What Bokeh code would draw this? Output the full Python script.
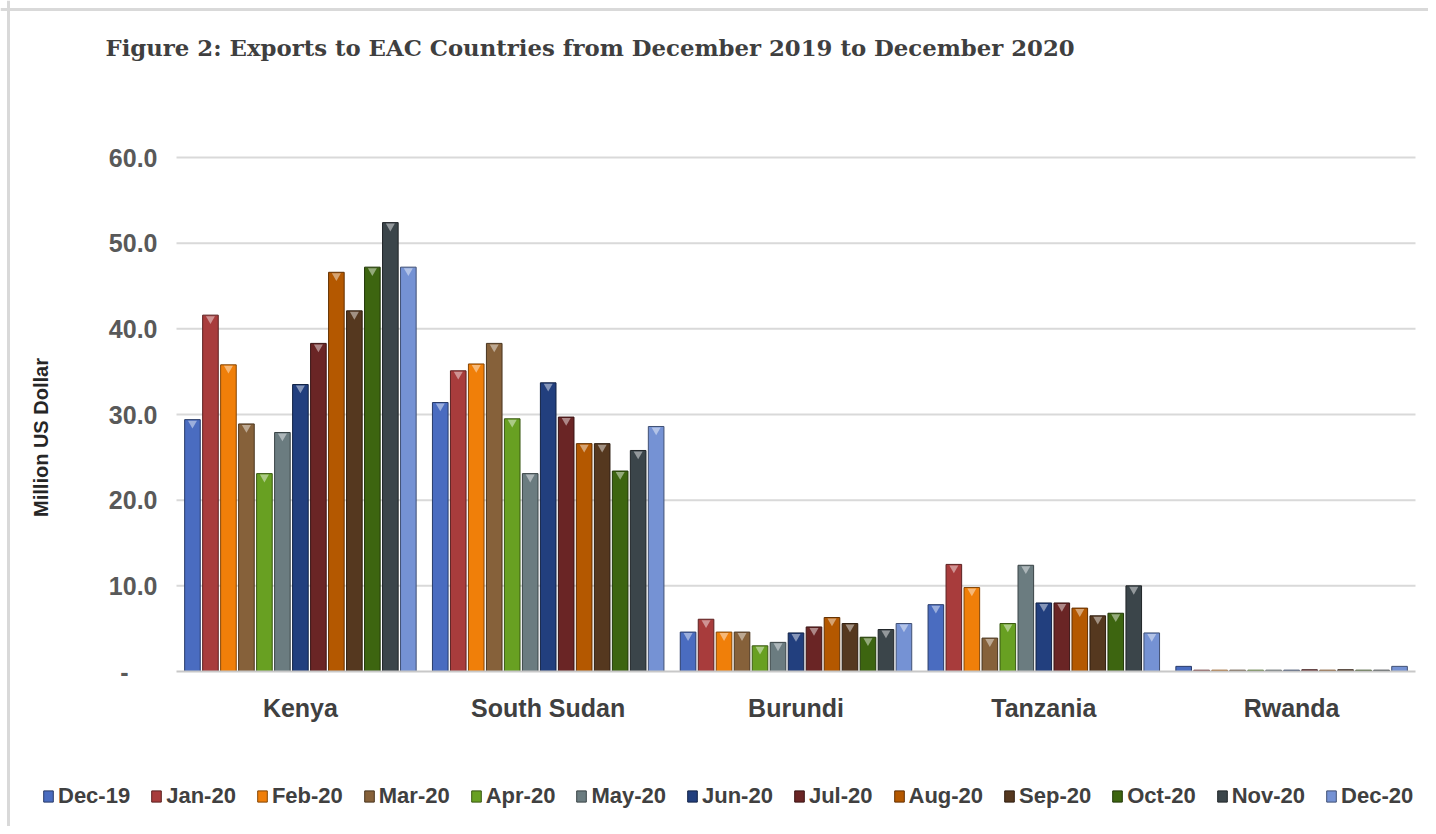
import math
from bokeh.plotting import figure
from bokeh.models import Range1d, Legend, LegendItem, ColumnDataSource, FixedTicker, Label, Span
from bokeh.transform import dodge
from bokeh.embed import file_html
from bokeh.resources import INLINE

countries = ["Kenya", "South Sudan", "Burundi", "Tanzania", "Rwanda"]
months = ["Dec-19", "Jan-20", "Feb-20", "Mar-20", "Apr-20", "May-20", "Jun-20",
          "Jul-20", "Aug-20", "Sep-20", "Oct-20", "Nov-20", "Dec-20"]

kenya = [29.4, 41.6, 35.8, 28.9, 23.1, 27.9, 33.5, 38.3, 46.6, 42.1, 47.2, 52.4, 47.2]
south_sudan = [31.4, 35.1, 35.9, 38.3, 29.5, 23.1, 33.7, 29.7, 26.6, 26.6, 23.4, 25.8, 28.6]
burundi = [4.6, 6.1, 4.6, 4.6, 3.0, 3.4, 4.5, 5.2, 6.3, 5.6, 4.0, 4.9, 5.6]
tanzania = [7.8, 12.5, 9.8, 3.9, 5.6, 12.4, 8.0, 8.0, 7.4, 6.5, 6.8, 10.0, 4.5]
rwanda = [0.6, 0.15, 0.15, 0.15, 0.15, 0.15, 0.15, 0.2, 0.15, 0.2, 0.15, 0.15, 0.6]

colors = ["#4a6cc0", "#a83c3c", "#f07f09", "#86613a", "#68a022", "#6b7c80", "#223f7e",
          "#6a2525", "#b45800", "#55381f", "#3d6510", "#3b454a", "#7592d4"]

y_ticks = [0, 10, 20, 30, 40, 50, 60]
y_tick_labels = {0: "", 10: "10.0", 20: "20.0", 30: "30.0", 40: "40.0", 50: "50.0", 60: "60.0"}
zero_label = "-"

title_text = "Figure 2: Exports to EAC Countries from December 2019 to December 2020"
y_title = "Million US Dollar"

series = [kenya, south_sudan, burundi, tanzania, rwanda]


def lighten(c, f=0.5):
    r, g, b = int(c[1:3], 16), int(c[3:5], 16), int(c[5:7], 16)
    r = int(r + (255 - r) * f); g = int(g + (255 - g) * f); b = int(b + (255 - b) * f)
    return "#%02x%02x%02x" % (r, g, b)


def darken(c, f=0.45):
    r, g, b = int(c[1:3], 16), int(c[3:5], 16), int(c[5:7], 16)
    return "#%02x%02x%02x" % (int(r * (1 - f)), int(g * (1 - f)), int(b * (1 - f)))


W, H = 1428, 826
# plot area in pixels: left 176, right 1415, top 157, bottom 671
L, R, T, B = 176, 1415, 157, 671
n = len(countries)
px_per_cat = (R - L) / n
px_per_unit = (B - T) / 60.0
x_range = Range1d(-0.5 - L / px_per_cat, n - 0.5 + (W - R) / px_per_cat)
y_range = Range1d(-(H - B) / px_per_unit, 60 + T / px_per_unit)

p = figure(width=W, height=H, x_range=x_range, y_range=y_range,
           output_backend="svg", toolbar_location=None,
           min_border_left=0, min_border_right=0, min_border_top=0, min_border_bottom=0)
p.title.visible = False
p.outline_line_color = None
p.background_fill_color = "white"
p.border_fill_color = "white"
p.xgrid.visible = False
p.ygrid.visible = False

# light frame of the chart picture
p.add_layout(Span(location=8, location_units="screen", dimension="height",
                  line_color="#d9d9d9", line_width=3))
p.add_layout(Span(location=H - 9, location_units="screen", dimension="width",
                  line_color="#d9d9d9", line_width=3))

idx = list(range(n))
grid_y = [t for t in y_ticks if t > 0]
p.segment(x0=[-0.5] * len(grid_y), x1=[n - 0.5] * len(grid_y), y0=grid_y, y1=grid_y,
          line_color="#d9d9d9", line_width=2)

pitch = 0.0726
bar_w = 0.063
items = []
for i, m in enumerate(months):
    vals = [s[i] for s in series]
    src = ColumnDataSource(dict(idx=idx, val=vals))
    off = (i - 6) * pitch
    r = p.vbar(x=dodge("idx", off), top="val", width=bar_w, source=src,
               fill_color=colors[i], line_color=darken(colors[i]), line_width=1)
    tri_i = [k for k, v in zip(idx, vals) if v >= 1]
    tri_v = [v - 0.42 for v in vals if v >= 1]
    tsrc = ColumnDataSource(dict(idx=tri_i, val=tri_v))
    p.scatter(x=dodge("idx", off), y="val", source=tsrc, marker="inverted_triangle",
              size=9, fill_color=lighten(colors[i], 0.45), line_color=None)
    items.append(LegendItem(label=m, renderers=[r]))

yax = p.yaxis[0]
yax.fixed_location = -0.5
yax.ticker = FixedTicker(ticks=y_ticks)
yax.major_label_overrides = y_tick_labels
yax.axis_line_color = None
yax.major_tick_line_color = None
yax.minor_tick_line_color = None
yax.major_label_text_font = "Liberation Sans"
yax.major_label_text_font_style = "bold"
yax.major_label_text_font_size = "25px"
yax.major_label_text_color = "#595959"
yax.major_label_standoff = 13

# accounting-style "-" for zero, set in from the right edge like the reference
p.add_layout(Label(x=124, y=0, x_units="screen", y_units="data", text=zero_label,
                   text_align="center", text_baseline="middle",
                   text_font="Liberation Sans", text_font_style="bold", text_font_size="25px",
                   text_color="#595959"))

p.add_layout(Label(x=40, y=H - 437, x_units="screen", y_units="screen", text=y_title,
                   angle=math.pi / 2, text_align="center", text_baseline="middle",
                   text_font="Liberation Sans", text_font_style="bold", text_font_size="20px",
                   text_color="#262626"))

xax = p.xaxis[0]
xax.fixed_location = 0
xax.bounds = (-0.5, n - 0.5)
xax.ticker = FixedTicker(ticks=idx)
xax.major_label_overrides = {k: c for k, c in zip(idx, countries)}
xax.axis_line_color = "#c8c8c8"
xax.axis_line_width = 2
xax.major_tick_line_color = None
xax.minor_tick_line_color = None
xax.major_label_text_font = "Liberation Sans"
xax.major_label_text_font_style = "bold"
xax.major_label_text_font_size = "25px"
xax.major_label_text_color = "#404040"
xax.major_label_standoff = 16

p.add_layout(Label(x=105, y=H - 47, x_units="screen", y_units="screen", text=title_text,
                   text_font="DejaVu Serif", text_font_style="bold", text_font_size="22.8px",
                   text_color="#3f3f3f", text_baseline="middle", text_align="left"))

legend = Legend(items=items, orientation="horizontal", location=(42, H - 796 - 13),
                label_text_font="Liberation Sans", label_text_font_style="bold",
                label_text_font_size="22px", label_text_color="#404040",
                glyph_width=12, glyph_height=14, label_standoff=4, spacing=20,
                border_line_color=None, background_fill_alpha=0, margin=0, padding=0)
p.add_layout(legend)

open("out.html", "w").write(file_html(p, INLINE))
